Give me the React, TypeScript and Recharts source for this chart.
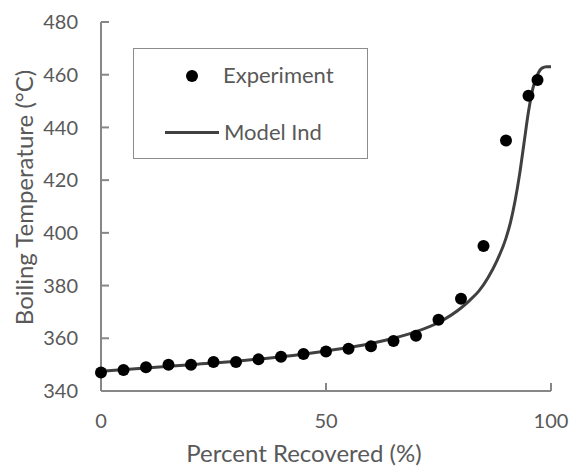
import { ComposedChart, Line, Scatter, XAxis, YAxis } from "recharts"

// measured boiling points
const expPct = [0, 5, 10, 15, 20, 25, 30, 35, 40, 45, 50, 55, 60, 65, 70, 75, 80, 85, 90, 95, 97]
const expTemp = [347, 348, 349, 350, 350, 351, 351, 352, 353, 354, 355, 356, 357, 359, 361, 367, 375, 395, 435, 452, 458]

// model curve
const modelPct = [0, 10, 20, 30, 40, 50, 60, 65, 70, 75, 80, 82, 84, 86, 88, 90, 91, 92, 93, 94, 95, 96, 97, 98, 99, 100]
const modelTemp = [
    347.5, 348.7, 350, 351.3, 353, 355.2, 358, 360, 362.5, 366, 371.5, 374.5, 378, 383, 389.5, 398, 404, 412, 422, 434,
    446, 455, 460, 462.5, 463, 463,
]

const xTicks = [0, 50, 100]
const yTicks = [340, 360, 380, 400, 420, 440, 460, 480]

const expData = expPct.map((x, i) => ({ x, y: expTemp[i] }))
const modelData = modelPct.map((x, i) => ({ x, y: modelTemp[i] }))

const FONT = "Lato, 'Open Sans', sans-serif"
const AXIS = "#878787"
const TEXT = "#595959"

const Dot = (props: any) => <circle cx={props.cx} cy={props.cy} r={6} fill="#000" />

// axis titles sit a little left of the plot centre, like the spreadsheet layout
const XTitle = ({ viewBox }: any) => (
    <text
        x={viewBox.x + viewBox.width / 2 - 22}
        y={viewBox.y + 71}
        textAnchor="middle"
        fill={TEXT}
        fontSize={24}
        fontFamily={FONT}
    >
        Percent Recovered (%)
    </text>
)

const YTitle = ({ viewBox }: any) => {
    const cx = 23
    const cy = viewBox.y + viewBox.height / 2 - 9
    return (
        <text
            x={cx}
            y={cy}
            transform={`rotate(-90 ${cx} ${cy})`}
            textAnchor="middle"
            dominantBaseline="central"
            fill={TEXT}
            fontSize={24}
            fontFamily={FONT}
        >
            Boiling Temperature (°C)
        </text>
    )
}

// legend box drawn over the plot, top-left
const LegendBox = () => (
    <div
        style={{
            position: "absolute",
            left: 133,
            top: 48,
            boxSizing: "border-box",
            width: 235,
            height: 111,
            border: "1.5px solid #8c8c8c",
            background: "#fff",
            fontFamily: FONT,
            fontSize: 22,
            color: TEXT,
        }}
    >
        <div style={{ position: "absolute", left: 52, top: 21, width: 12, height: 12, borderRadius: 6, background: "#000" }} />
        <div style={{ position: "absolute", left: 89, top: 12, lineHeight: "28px" }}>Experiment</div>
        <div style={{ position: "absolute", left: 31, top: 82, width: 54, height: 3, background: "#404040" }} />
        <div style={{ position: "absolute", left: 90, top: 69, lineHeight: "28px" }}>Model Ind</div>
    </div>
)

export default function App() {
    return (
        <div style={{ position: "absolute", left: 0, top: 0, width: 570, height: 468, background: "#fff" }}>
            <ComposedChart width={570} height={468} margin={{ top: 22, right: 19, left: 0, bottom: 0 }}>
                <XAxis
                    xAxisId="top"
                    orientation="top"
                    type="number"
                    dataKey="x"
                    domain={[0, 100]}
                    height={0}
                    tick={false}
                    tickLine={false}
                    axisLine={{ stroke: AXIS, strokeWidth: 1.5 }}
                />
                <YAxis
                    yAxisId="right"
                    orientation="right"
                    type="number"
                    domain={[340, 480]}
                    width={0}
                    tick={false}
                    tickLine={false}
                    axisLine={{ stroke: AXIS, strokeWidth: 1.5 }}
                />
                <XAxis
                    type="number"
                    dataKey="x"
                    domain={[0, 100]}
                    ticks={xTicks}
                    height={77}
                    tickSize={-8}
                    tickMargin={31}
                    axisLine={{ stroke: AXIS, strokeWidth: 2 }}
                    tickLine={{ stroke: AXIS, strokeWidth: 2 }}
                    tick={{ fill: TEXT, fontSize: 20, fontFamily: FONT }}
                    label={{ content: XTitle }}
                />
                <YAxis
                    type="number"
                    domain={[340, 480]}
                    ticks={yTicks}
                    width={101}
                    tickSize={-8}
                    tickMargin={31}
                    axisLine={{ stroke: AXIS, strokeWidth: 2 }}
                    tickLine={{ stroke: AXIS, strokeWidth: 2 }}
                    tick={{ fill: TEXT, fontSize: 20, fontFamily: FONT }}
                    label={{ content: YTitle }}
                />
                <Line
                    data={modelData}
                    dataKey="y"
                    type="monotone"
                    stroke="#404040"
                    strokeWidth={3}
                    dot={false}
                    activeDot={false}
                    isAnimationActive={false}
                />
                <Scatter data={expData} dataKey="y" shape={<Dot />} isAnimationActive={false} />
            </ComposedChart>
            <LegendBox />
        </div>
    )
}
